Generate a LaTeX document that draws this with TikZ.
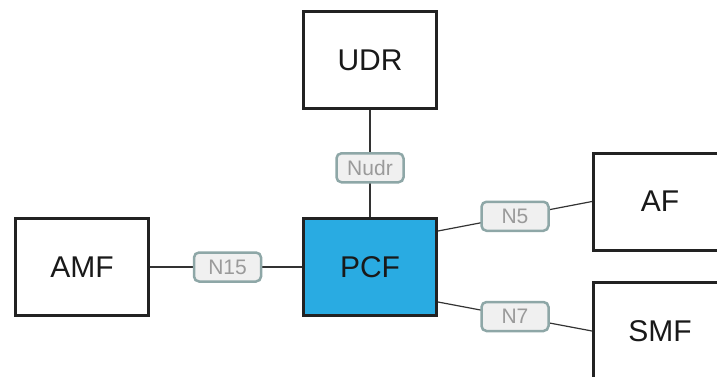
\documentclass[tikz,border=0pt]{standalone}
\usepackage{fontspec}
\setmainfont{Liberation Sans}
\usepackage{tikz}
\usetikzlibrary{positioning, calc}
\definecolor{nfblue}{HTML}{29ABE2}
\definecolor{ifedge}{HTML}{8EA7A7}
\definecolor{iffill}{HTML}{F0F0F0}
\definecolor{iftext}{HTML}{9A9A9A}
\definecolor{nfline}{HTML}{222222}

\begin{document}
\begin{tikzpicture}[
			x=1pt, y=1pt,
			nf/.style={
					rectangle, draw=nfline, line width=3pt, fill=white,
					minimum width=133pt, minimum height=97pt,
					font=\fontsize{30}{30}\selectfont, text=black!90
				},
			iface/.style={
					rectangle, draw=ifedge, line width=2.5pt, fill=iffill, rounded corners=5pt,
					minimum width=67pt, minimum height=29pt, inner sep=0pt,
					font=\fontsize{21}{21}\selectfont, text=iftext
				},
			link/.style={draw=black!80, line width=1.2pt}
		]

		% page frame, the outer boxes run off the edge
		\useasboundingbox (0,0) rectangle (717,376);
		\clip (0,0) rectangle (717,376);

		% network functions
		\node[nf] (udr) at (370,316) {UDR};
		\node[nf, fill=nfblue] (pcf) at (370,109) {PCF};
		\node[nf] (amf) at (82,109) {AMF};
		\node[nf] (af) at (660,174.5) {AF};
		\node[nf] (smf) at (660,45) {SMF};

		% reference points with their interface labels
		\draw[link] (udr.south) -- node[iface, pos=0.54] (nudr) {Nudr} (pcf.north);
		\draw[link] (amf.east) -- node[iface, pos=0.51] (n15) {N15} (pcf.west);
		\draw[link] ([yshift=36pt]pcf.east) -- node[iface] (n5) {N5} (af.west);
		\draw[link] ([yshift=-35pt]pcf.east) -- node[iface] (n7) {N7} (smf.west);

	\end{tikzpicture}
\end{document}
